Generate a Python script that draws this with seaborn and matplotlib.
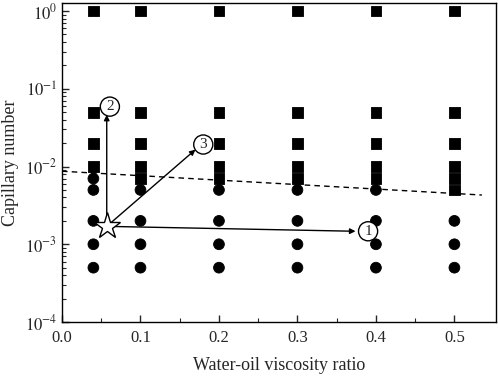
import numpy as np
import pandas as pd
import matplotlib
matplotlib.use('Agg')
import matplotlib.pyplot as plt
import seaborn as sns

# ==================== Data ====================
ratios = [0.04, 0.1, 0.2, 0.3, 0.4, 0.5]
# capillary numbers drawn as squares / circles per viscosity ratio
square_ca = {
    0.04: [1.0, 0.05, 0.02, 0.01],
    0.1: [1.0, 0.05, 0.02, 0.01, 0.007],
    0.2: [1.0, 0.05, 0.02, 0.01, 0.007],
    0.3: [1.0, 0.05, 0.02, 0.01, 0.007],
    0.4: [1.0, 0.05, 0.02, 0.01, 0.007],
    0.5: [1.0, 0.05, 0.02, 0.01, 0.007, 0.005],
}
circle_ca = {
    0.04: [0.007, 0.005, 0.002, 0.001, 0.0005],
    0.1: [0.005, 0.002, 0.001, 0.0005],
    0.2: [0.005, 0.002, 0.001, 0.0005],
    0.3: [0.005, 0.002, 0.001, 0.0005],
    0.4: [0.005, 0.002, 0.001, 0.0005],
    0.5: [0.002, 0.001, 0.0005],
}

# dashed boundary line
boundary_x = [0.0, 0.535]
boundary_y = [0.0087, 0.0043]

# starting point (star) and arrow targets with labels
star_x, star_y = 0.057, 0.0017
arrow_tips = {'1': (0.374, 0.00147), '2': (0.057, 0.0464), '3': (0.170, 0.0165)}
label_pos = {'1': (0.390, 0.00147), '2': (0.061, 0.059), '3': (0.180, 0.0192)}

rows = []
for r in ratios:
    for c in square_ca[r]:
        rows.append({'ratio': r, 'ca': c, 'kind': 'square'})
    for c in circle_ca[r]:
        rows.append({'ratio': r, 'ca': c, 'kind': 'circle'})
df = pd.DataFrame(rows)

# ==================== Style ====================
sns.set_style('ticks')
plt.rcParams['font.family'] = ['Liberation Serif', 'DejaVu Serif']
plt.rcParams['mathtext.fontset'] = 'stix'

fig = plt.figure(figsize=(4.98, 3.76), dpi=100)
ax = fig.add_axes([0.1245, 0.1436, 0.8715, 0.8484])

sns.scatterplot(data=df, x='ratio', y='ca', style='kind',
                markers={'square': 's', 'circle': 'o'},
                color='black', edgecolor='black', s=60, legend=False, ax=ax, zorder=3)

sns.lineplot(x=boundary_x, y=boundary_y, color='black', linestyle=(0, (4, 3)),
             linewidth=1.0, ax=ax)

for key, (tx, ty) in arrow_tips.items():
    ax.annotate('', xy=(tx, ty), xytext=(star_x, star_y),
                arrowprops=dict(arrowstyle='-|>', color='black', lw=1.0,
                                mutation_scale=8, shrinkA=0, shrinkB=0), zorder=4)
    lx, ly = label_pos[key]
    ax.text(lx, ly, key, ha='center', va='center', fontsize=11, zorder=6,
            bbox=dict(boxstyle='circle,pad=0.2', fc='white', ec='black', lw=1.0))

ax.plot([star_x], [star_y], marker='*', markersize=20, markerfacecolor='white',
        markeredgecolor='black', markeredgewidth=1.0, linestyle='none', zorder=7)

ax.set_yscale('log')
ax.set_xlim(0.0, 0.553)
ax.set_ylim(1e-4, 1.27)
ax.set_xticks([0.0, 0.1, 0.2, 0.3, 0.4, 0.5])
ax.set_xticklabels(['0.0', '0.1', '0.2', '0.3', '0.4', '0.5'])
ax.set_xticks(np.arange(0.05, 0.55, 0.1), minor=True)
ax.set_yticks([1e-4, 1e-3, 1e-2, 1e-1, 1e0])
ax.set_yticklabels([r'$10^{-4}$', r'$10^{-3}$', r'$10^{-2}$', r'$10^{-1}$', r'$10^{0}$'])

ax.tick_params(which='both', direction='in', top=False, right=False, labelsize=12)
ax.tick_params(which='major', length=5, width=1.0)
ax.tick_params(which='minor', length=3, width=0.8)
ax.tick_params(axis='x', which='major', pad=6)
for sp in ax.spines.values():
    sp.set_linewidth(1.0)
    sp.set_color('black')

ax.set_xlabel('Water-oil viscosity ratio', fontsize=13, labelpad=8)
ax.set_ylabel('Capillary number', fontsize=13, labelpad=4)

fig.savefig('out.png', dpi=100)
